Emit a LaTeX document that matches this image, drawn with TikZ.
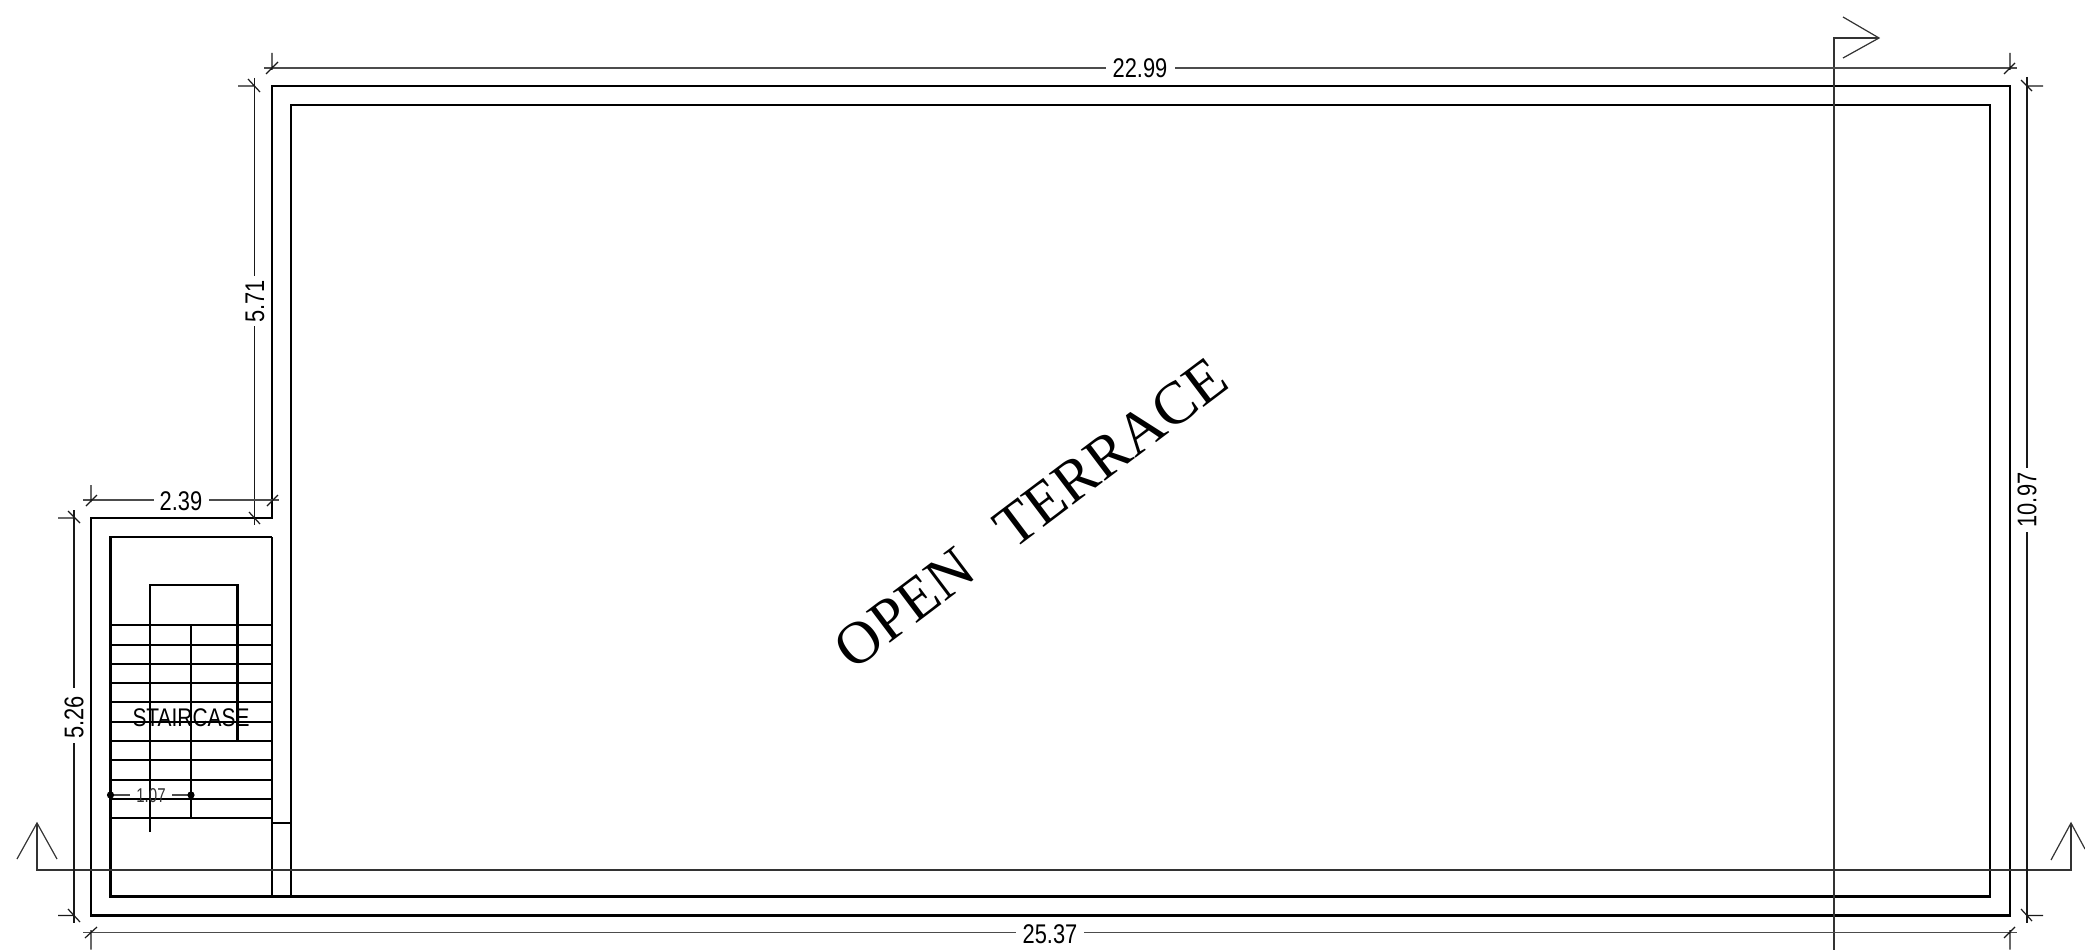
\documentclass[tikz,border=0pt]{standalone}
\usepackage{fontspec}
\usepackage{graphicx}
\setmainfont{Liberation Sans}
\newfontfamily\serifface{Liberation Serif}
\tikzset{
 wall/.style={line width=2.5pt,black,line cap=round,line join=miter},
 inner/.style={line width=2.2pt,black},
 tread/.style={line width=2pt,black},
 dimline/.style={line width=1.3pt,black!70},
 tick/.style={line width=1.2pt,black!90},
 section/.style={line width=1.2pt,black!80},
 dimtext/.style={inner sep=0pt,font=\fontsize{27}{27}\selectfont,text=black},
}
\newcommand{\narrow}[1]{\scalebox{0.81}[1]{#1}}
\begin{document}
\begin{tikzpicture}[x=1pt,y=-1pt]
\useasboundingbox (0,0) rectangle (2085,949.6);
% walls
\draw[wall] (91,518) -- (272,518) -- (272,86) -- (2010,86) -- (2010,915.5) -- (91,915.5) -- cycle;
\draw[inner] (272,537) -- (110.5,537) -- (110.5,896.5) -- (1990,896.5) -- (1990,105) -- (291,105) -- (291,896.5);
\draw[inner] (272,537) -- (272,896.5);
\draw[tread] (272,823) -- (291,823);
% stairs
\foreach \yy in {625.3,644.7,663.7,683,702.3,721.7,741,760.3,779.7,799,818}
  \draw[tread] (110.5,\yy) -- (272,\yy);
\draw[inner] (150,832) -- (150,585) -- (237.5,585) -- (237.5,741);
\draw[inner] (191,625) -- (191,818);
\node[inner sep=0pt,font=\fontsize{25.5}{25.5}\selectfont] (stair) at (191,717.5) {\scalebox{0.82}[1]{STAIRCASE}};
% section lines
\draw[section] (57,859) -- (37,823) -- (17,859);
\draw[section] (37,823) -- (37,870) -- (2071,870) -- (2071,823);
\draw[section] (2051,860) -- (2071,823) -- (2085,849);
\draw[section] (1834,949.6) -- (1834,38) -- (1879,38);
\draw[section] (1843,17) -- (1879,38) -- (1843,58);
% dim 22.99
\draw[dimline] (264,68) -- (1106,68) (1175,68) -- (2017,68);
\draw[tick] (272,53) -- (272,70) (266,74) -- (278,62);
\draw[tick] (2010,53) -- (2010,70) (2004,74) -- (2015,63);
\node[dimtext] (d2299) at (1140,68.5) {\narrow{22.99}};
% dim 25.37
\draw[dimline] (83,932.5) -- (1016,932.5) (1084,932.5) -- (2017,932.5);
\draw[tick] (91,930) -- (91,949.6) (85,938) -- (97,927);
\draw[tick] (2010,930) -- (2010,949.6) (2004,938) -- (2015,927);
\node[dimtext] (d2537) at (1050,934) {\narrow{25.37}};
% dim 10.97
\draw[tick] (2027,77) -- (2027,468) (2027,532) -- (2027,923);
\draw[tick] (2027,86) -- (2043,86) (2021,80) -- (2032,91);
\draw[tick] (2027,915.5) -- (2043,915.5) (2021,909) -- (2032,921);
\node[dimtext,rotate=90] (d1097) at (2027,500) {\narrow{10.97}};
% dim 5.71
\draw[tick] (254.5,78) -- (254.5,276) (254.5,326) -- (254.5,525);
\draw[tick] (238,86) -- (254.5,86) (248,79) -- (260,92);
\draw[tick] (249,512) -- (260,524);
\node[dimtext,rotate=90] (d571) at (255,301.5) {\narrow{5.71}};
% dim 5.26
\draw[tick] (74,510) -- (74,688) (74,743) -- (74,923);
\draw[tick] (58,518) -- (74,518) (68,511) -- (80,523);
\draw[tick] (58,915.5) -- (74,915.5) (68,909) -- (80,922);
\node[dimtext,rotate=90] (d526) at (74,717.5) {\narrow{5.26}};
% dim 2.39
\draw[dimline] (83,500) -- (154,500) (209,500) -- (279,500);
\draw[tick] (91,485) -- (91,502) (86,506) -- (97,495);
\draw[tick] (267,506) -- (278,495);
\node[dimtext] (d239) at (181,501) {\narrow{2.39}};
% dim 1.07
\draw[dimline] (110.5,795) -- (130,795) (172,795) -- (191,795);
\fill (110.5,795) circle[radius=3.6];
\fill (191,795) circle[radius=3.6];
\node[inner sep=0pt,font=\fontsize{20}{20}\selectfont,text=black!80] (d107) at (151,796) {\scalebox{0.75}[1]{1.07}};
% title
\node[inner sep=0pt,rotate=37,font=\serifface\fontsize{60}{60}\selectfont] (title) at (1031,513) {OPEN\hspace{0.72em}TERRACE};
\end{tikzpicture}
\end{document}
